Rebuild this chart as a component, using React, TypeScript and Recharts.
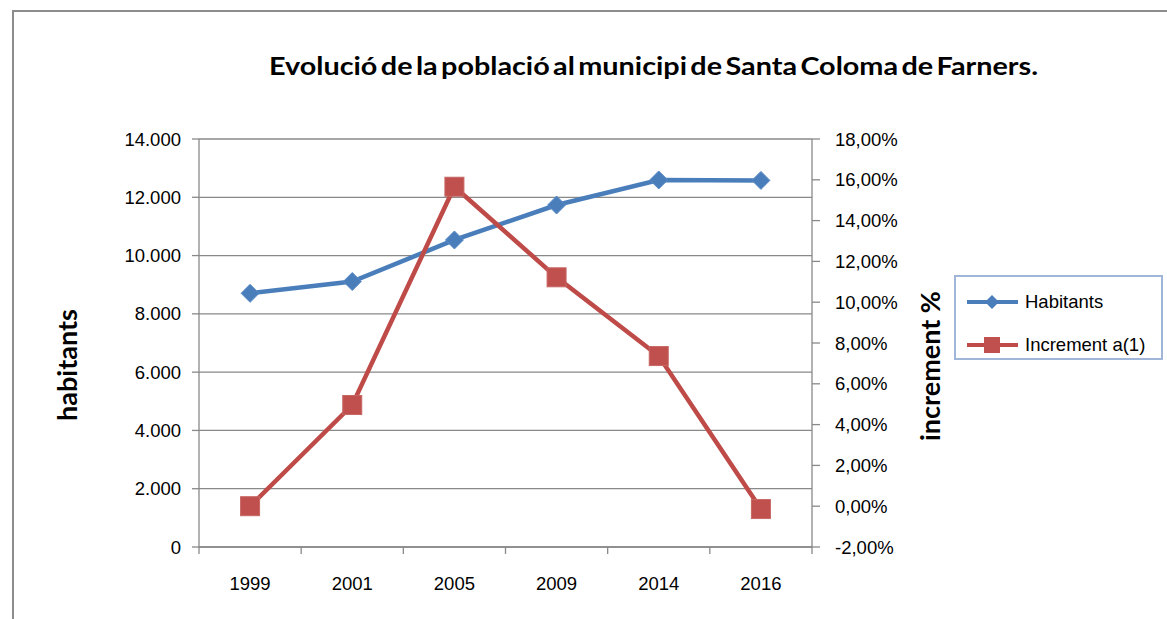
import React from "react";
import { CartesianGrid, Legend, Line, LineChart, XAxis, YAxis } from "recharts";

const years = ["1999", "2001", "2005", "2009", "2014", "2016"];
const habitants = [8705, 9110, 10535, 11735, 12595, 12580];
const increment = [0.0, 4.96, 15.66, 11.22, 7.36, -0.14];
const leftTicks = [0, 2000, 4000, 6000, 8000, 10000, 12000, 14000];
const rightTicks = [-2, 0, 2, 4, 6, 8, 10, 12, 14, 16, 18];

const BLUE = "#4a7ebb";
const RED = "#be4b48";
const GRID = "#898989";
const TICK_FONT = { fontSize: 18.5, fontFamily: "Liberation Sans, Arial, sans-serif", fill: "#000" };

const data = years.map((year, i) => ({ pos: i + 0.5, year, habitants: habitants[i], increment: increment[i] }));
const bandTicks = [...years.map((_, i) => i), years.length];
const labelTicks = years.map((_, i) => i + 0.5);

const fmtThousands = (v: number) =>
  v === 0 ? "0" : `${Math.floor(v / 1000)}.${String(v % 1000).padStart(3, "0")}`;
const fmtPct = (v: number) => `${v.toFixed(2).replace(".", ",")}%`;

const Diamond = (props: any) => {
  const { cx, cy } = props;
  if (cx == null || cy == null) return null;
  const r = 9;
  return (
    <path
      d={`M${cx},${cy - r} L${cx + r},${cy} L${cx},${cy + r} L${cx - r},${cy} Z`}
      fill={BLUE}
      stroke="#5b8bc6"
      strokeWidth={1}
    />
  );
};

const Square = (props: any) => {
  const { cx, cy } = props;
  if (cx == null || cy == null) return null;
  const s = 19;
  return <rect x={cx - s / 2} y={cy - s / 2} width={s} height={s} fill="#c0504d" stroke="#c76764" strokeWidth={1} />;
};

const renderLegend = (props: any) => {
  const items = props.payload || [];
  return (
    <div
      style={{
        width: 209,
        height: 85,
        boxSizing: "border-box",
        border: "2px solid #9fb6d8",
        background: "#fff",
        paddingTop: 7,
      }}
    >
      {items.map((it: any, i: number) => (
        <div key={i} style={{ display: "flex", alignItems: "center", height: 36, marginTop: i === 0 ? 0 : 7 }}>
          <svg width={66} height={24} style={{ marginLeft: 9 }}>
            <line x1={2} y1={12} x2={53} y2={12} stroke={it.color} strokeWidth={4} />
            {i === 0 ? (
              <path d="M27,5 L34,12 L27,19 L20,12 Z" fill={BLUE} />
            ) : (
              <rect x={19} y={4} width={16} height={16} fill="#c0504d" />
            )}
          </svg>
          <span style={{ ...TICK_FONT, color: "#000", marginLeft: -6, whiteSpace: "nowrap" }}>{it.value}</span>
        </div>
      ))}
    </div>
  );
};

export default function App() {
  return (
    <div
      style={{
        position: "absolute",
        left: 0,
        top: 0,
        width: 1167,
        height: 619,
        overflow: "hidden",
        background: "#fff",
      }}
    >
      <div
        style={{
          position: "absolute",
          left: 12,
          top: 10,
          width: 1300,
          height: 800,
          borderTop: "2px solid #8c8c8c",
          borderLeft: "2px solid #8c8c8c",
        }}
      />
      <div style={{ position: "absolute", left: 0, top: 0 }}>
        <LineChart width={1167} height={619} data={data} margin={{ top: 139, right: 255, bottom: 0, left: 79 }}>
          <CartesianGrid xAxisId="band" yAxisId="left" vertical={false} stroke={GRID} strokeWidth={1.3} />
          <XAxis
            xAxisId="band"
            type="number"
            dataKey="pos"
            domain={[0, years.length]}
            ticks={bandTicks}
            interval={0}
            tickFormatter={() => ""}
            height={8}
            tickSize={7}
            axisLine={{ stroke: GRID, strokeWidth: 1.3 }}
            tickLine={{ stroke: GRID, strokeWidth: 1.3 }}
          />
          <XAxis
            xAxisId="labels"
            type="number"
            dataKey="pos"
            domain={[0, years.length]}
            ticks={labelTicks}
            interval={0}
            tickFormatter={(v: number) => years[Math.round(v - 0.5)]}
            height={64}
            tickSize={6}
            tickMargin={16}
            axisLine={false}
            tickLine={false}
            tick={TICK_FONT}
          />
          <YAxis
            yAxisId="left"
            orientation="left"
            width={120}
            domain={[0, 14000]}
            ticks={leftTicks}
            interval={0}
            tickFormatter={fmtThousands}
            tickSize={7}
            tickMargin={11}
            axisLine={{ stroke: GRID, strokeWidth: 1.3 }}
            tickLine={{ stroke: GRID, strokeWidth: 1.3 }}
            tick={TICK_FONT}
          />
          <YAxis
            yAxisId="right"
            orientation="right"
            width={100}
            domain={[-2, 18]}
            ticks={rightTicks}
            interval={0}
            tickFormatter={fmtPct}
            tickSize={8}
            tickMargin={15}
            axisLine={{ stroke: GRID, strokeWidth: 1.3 }}
            tickLine={{ stroke: GRID, strokeWidth: 1.3 }}
            tick={TICK_FONT}
          />
          <Legend
            layout="vertical"
            align="center"
            verticalAlign="middle"
            content={renderLegend}
            wrapperStyle={{ left: 954, top: 275, width: 209, height: 85 }}
          />
          <Line
            xAxisId="band"
            yAxisId="left"
            name="Habitants"
            dataKey="habitants"
            stroke={BLUE}
            strokeWidth={4.5}
            dot={Diamond}
            activeDot={false}
            isAnimationActive={false}
          />
          <Line
            xAxisId="band"
            yAxisId="right"
            name="Increment a(1)"
            dataKey="increment"
            stroke={RED}
            strokeWidth={4.5}
            dot={Square}
            activeDot={false}
            isAnimationActive={false}
          />
        </LineChart>
      </div>
      <svg
        width={1167}
        height={619}
        style={{ position: "absolute", left: 0, top: 0, pointerEvents: "none" }}
        fontFamily="Lato, 'Open Sans', sans-serif"
        fontWeight="bold"
      >
        <text
          x={653.5}
          y={75}
          textAnchor="middle"
          fontSize={24}
          wordSpacing={-3}
          textLength={769}
          lengthAdjust="spacingAndGlyphs"
          fill="#000"
        >
          Evolució de la població al municipi de Santa Coloma de Farners.
        </text>
        <text transform="translate(77,365) rotate(-90)" textAnchor="middle" fontSize={27} fill="#000">
          habitants
        </text>
        <text transform="translate(940,366) rotate(-90)" textAnchor="middle" fontSize={27} fill="#000">
          increment %
        </text>
      </svg>
    </div>
  );
}
